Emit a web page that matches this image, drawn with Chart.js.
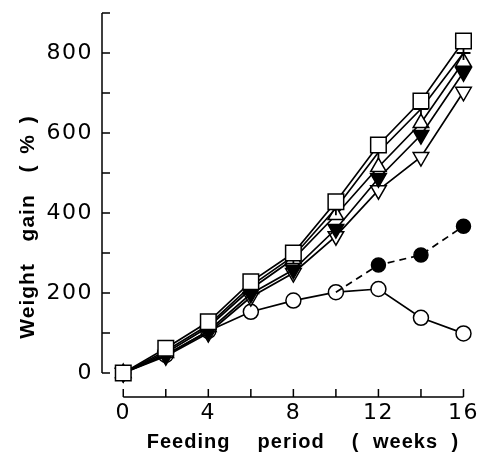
<!DOCTYPE html>
<html lang="en">
<head>
<meta charset="UTF-8">
<title>Weight gain</title>
<script src="https://cdn.jsdelivr.net/npm/chart.js"></script>
<style>
  html, body { margin: 0; padding: 0; background: #fff; }
  #wrap { width: 493px; height: 453px; position: relative; }
</style>
</head>
<body>
<div id="wrap"><canvas id="gainChart"></canvas></div>
<script>
// feeding period (weeks)
const weeks = [0, 2, 4, 6, 8, 10, 12, 14, 16];

// weight gain (%) per group
const squareOpen  = [0, 62, 128, 228, 300, 428, 570, 680, 830];
const plusGroup   = [0, 55, 120, 218, 292, 412, 552, 660, 800];
const triUpOpen   = [0, 50, 115, 210, 285, 395, 515, 625, 778];
const triDownFill = [0, 45, 105, 198, 258, 360, 487, 595, 752];
const triDownOpen = [0, 42, 100, 190, 250, 342, 457, 540, 703];
const circleOpen  = [0, 45, 105, 153, 181, 202, 210, 138, 99];
// this group splits off the open circles at week 10
const circleFillWeeks = [10, 12, 14, 16];
const circleFill      = [202, 270, 295, 367];

const xTickLabels = [0, 4, 8, 12, 16];
const yTickLabels = [0, 200, 400, 600, 800];
const xTickMarks = [0, 2, 4, 6, 8, 10, 12, 14, 16];
const yTickMarks = [0, 100, 200, 300, 400, 500, 600, 700, 800, 900];

const pts = (xs, ys) => xs.map((x, i) => ({ x: x, y: ys[i] }));

const base = {
  borderColor: '#000',
  borderWidth: 1.7,
  pointBorderColor: '#000',
  pointBorderWidth: 1.5,
  pointBackgroundColor: '#fff',
  tension: 0,
  fill: false
};

// detached axis lines with inward ticks, like a journal figure
const axisLines = {
  id: 'axisLines',
  beforeDatasetsDraw(chart) {
    const { ctx, chartArea, scales: { x, y } } = chart;
    const left = chartArea.left, bottom = chartArea.bottom;
    ctx.save();
    ctx.strokeStyle = '#000';
    ctx.lineWidth = 1.5;
    ctx.beginPath();
    ctx.moveTo(left, y.getPixelForValue(yTickMarks[0]));
    ctx.lineTo(left, y.getPixelForValue(yTickMarks[yTickMarks.length - 1]));
    yTickMarks.forEach(v => {
      const py = y.getPixelForValue(v);
      ctx.moveTo(left, py);
      ctx.lineTo(left + 8, py);
    });
    ctx.moveTo(x.getPixelForValue(xTickMarks[0]), bottom);
    ctx.lineTo(x.getPixelForValue(xTickMarks[xTickMarks.length - 1]), bottom);
    xTickMarks.forEach(v => {
      const px = x.getPixelForValue(v);
      ctx.moveTo(px, bottom);
      ctx.lineTo(px, bottom - 8);
    });
    ctx.stroke();
    ctx.restore();
  }
};

// spaced-out tick labels and axis titles
const axisText = {
  id: 'axisText',
  beforeDraw(chart) {
    chart.ctx.letterSpacing = '1.5px';
  },
  afterDraw(chart) {
    const ctx = chart.ctx;
    ctx.save();
    ctx.fillStyle = '#000';
    ctx.textAlign = 'center';
    ctx.textBaseline = 'alphabetic';
    ctx.letterSpacing = '1px';
    ctx.wordSpacing = '7px';
    ctx.font = 'bold 20px "Liberation Sans", Arial, sans-serif';
    ctx.fillText('Feeding  period  ( weeks )', 303, 448);
    ctx.wordSpacing = '4px';
    ctx.translate(34, 227);
    ctx.rotate(-Math.PI / 2);
    ctx.font = 'bold 21px "Liberation Sans", Arial, sans-serif';
    ctx.fillText('Weight  gain  ( % )', 0, 0);
    ctx.restore();
    ctx.letterSpacing = '0px';
  }
};

const tickFont = { family: 'DejaVu Sans', size: 22 };

// keep the plot area fixed; no extra room for label overhang
const noOverhang = s => {
  s.paddingTop = 0; s.paddingBottom = 0;
  s.paddingLeft = 0; s.paddingRight = 0;
};

new Chart(document.getElementById('gainChart'), {
  type: 'line',
  data: {
    datasets: [
      Object.assign({}, base, {
        label: 'open square', data: pts(weeks, squareOpen),
        pointStyle: 'rect', pointRadius: 11
      }),
      Object.assign({}, base, {
        label: 'filled triangle down', data: pts(weeks, triDownFill),
        pointStyle: 'triangle', pointRotation: 180, pointRadius: 9,
        pointBackgroundColor: '#000'
      }),
      Object.assign({}, base, {
        label: 'plus', data: pts(weeks, plusGroup),
        pointStyle: 'cross', pointRadius: 7, pointBorderWidth: 1.8
      }),
      Object.assign({}, base, {
        label: 'open triangle', data: pts(weeks, triUpOpen),
        pointStyle: 'triangle', pointRadius: 9
      }),
      Object.assign({}, base, {
        label: 'open triangle down', data: pts(weeks, triDownOpen),
        pointStyle: 'triangle', pointRotation: 180, pointRadius: 9
      }),
      Object.assign({}, base, {
        label: 'filled circle', data: pts(circleFillWeeks, circleFill),
        pointStyle: 'circle', pointRadius: [0, 7, 7, 7],
        pointBackgroundColor: '#000', borderDash: [7, 5]
      }),
      Object.assign({}, base, {
        label: 'open circle', data: pts(weeks, circleOpen),
        pointStyle: 'circle', pointRadius: 7.5
      })
    ]
  },
  options: {
    responsive: true,
    maintainAspectRatio: false,
    animation: false,
    layout: { padding: { top: 13, right: 0, left: 0, bottom: 0 } },
    plugins: {
      legend: { display: false },
      tooltip: { enabled: false }
    },
    scales: {
      x: {
        type: 'linear',
        min: -1,
        max: 16.8,
        afterBuildTicks: s => { s.ticks = xTickLabels.map(v => ({ value: v })); },
        afterFit: s => { s.height = 56; noOverhang(s); },
        grid: { display: false, drawTicks: false },
        border: { display: false },
        ticks: { color: '#000', font: tickFont, padding: 3, maxRotation: 0, autoSkip: false }
      },
      y: {
        min: -60,
        max: 900,
        afterBuildTicks: s => { s.ticks = yTickLabels.map(v => ({ value: v })); },
        afterFit: s => { s.width = 102; noOverhang(s); },
        grid: { display: false, drawTicks: false },
        border: { display: false },
        ticks: { color: '#000', font: tickFont, padding: 9, autoSkip: false }
      }
    }
  },
  plugins: [axisLines, axisText]
});
</script>
</body>
</html>
